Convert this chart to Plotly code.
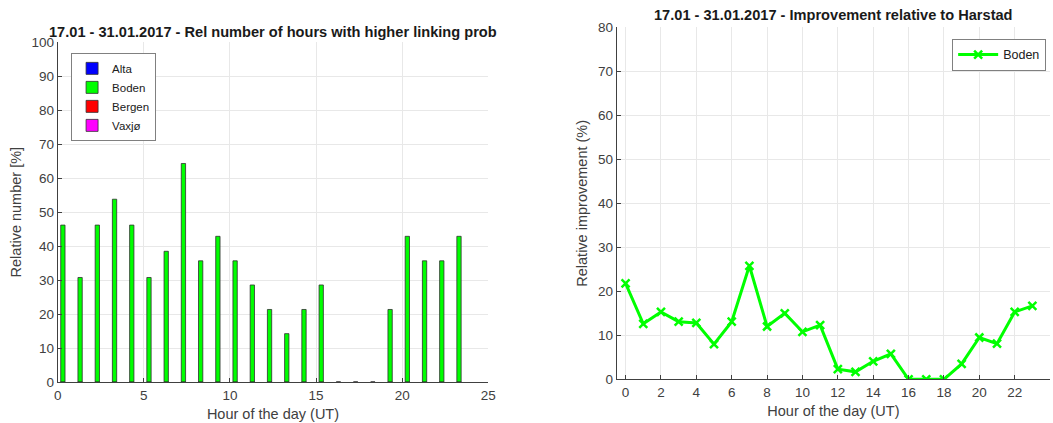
import plotly.graph_objects as go

hours = list(range(24))
stations = ["Alta", "Boden", "Bergen", "Vaxjø"]
bar_colors = ["#0000ff", "#00ff00", "#ff0000", "#ff00ff"]
alta_rel = [0] * 24
boden_rel = [46.2, 30.8, 46.2, 53.8, 46.2, 30.8, 38.5, 64.3, 35.7, 42.9, 35.7, 28.6,
             21.4, 14.3, 21.4, 28.6, 0, 0, 0, 21.4, 42.9, 35.7, 35.7, 42.9]
bergen_rel = [0] * 24
vaxjo_rel = [0] * 24
series_rel = [alta_rel, boden_rel, bergen_rel, vaxjo_rel]

boden_impr = [21.8, 12.6, 15.3, 13.1, 12.8, 8.0, 13.1, 25.8, 12.0, 15.0, 10.8, 12.3,
              2.3, 1.7, 4.1, 5.8, 0, 0, 0, 3.5, 9.5, 8.1, 15.3, 16.7]

left_title = "17.01 - 31.01.2017 - Rel number of hours with higher linking prob"
right_title = "17.01 - 31.01.2017 - Improvement relative to Harstad"

FONT = "Liberation Sans, Arial, Helvetica, sans-serif"
AX = "#404040"
GRID = "#e8e8e8"

fig = go.Figure()
for name, col, vals in zip(stations, bar_colors, series_rel):
    fig.add_trace(go.Bar(
        x=hours, y=vals, name=name, width=0.25, offset=0.175,
        marker=dict(color=col, line=dict(color="#303030", width=0.8)),
        xaxis="x", yaxis="y", legend="legend",
    ))

fig.add_trace(go.Scatter(
    x=hours, y=boden_impr, name="Boden", mode="lines+markers",
    line=dict(color="#00ff00", width=3),
    marker=dict(symbol="x-thin-open", size=8, color="#00ff00",
                line=dict(color="#00ff00", width=2.5)),
    xaxis="x2", yaxis="y2", legend="legend2",
))

common_axis = dict(
    showline=True, linecolor=AX, linewidth=1, ticks="inside", ticklen=4,
    tickcolor=AX, showgrid=True, gridcolor=GRID, zeroline=False, automargin=False,
    tickfont=dict(family=FONT, size=13.5, color=AX), mirror=False,
)
title_font = dict(family=FONT, size=14.5, color=AX)

fig.update_layout(
    width=1053, height=423, margin=dict(l=0, r=0, t=0, b=0, autoexpand=False),
    paper_bgcolor="white", plot_bgcolor="white", barmode="overlay",
    font=dict(family=FONT, color=AX),
    xaxis=dict(domain=[0.0548, 0.4637], range=[0, 25], tickvals=[0, 5, 10, 15, 20, 25],
               title=dict(text="Hour of the day (UT)", font=title_font, standoff=7),
               anchor="y", **common_axis),
    yaxis=dict(domain=[0.0962, 0.9007], range=[0, 100], tickvals=list(range(0, 101, 10)),
               title=dict(text="Relative number [%]", font=title_font, standoff=6),
               anchor="x", **common_axis),
    xaxis2=dict(domain=[0.5857, 0.9972], range=[-0.5, 24], tickvals=list(range(0, 23, 2)),
                title=dict(text="Hour of the day (UT)", font=title_font, standoff=7),
                anchor="y2", **common_axis),
    yaxis2=dict(domain=[0.1033, 0.9355], range=[0, 80], tickvals=list(range(0, 81, 10)),
                title=dict(text="Relative improvement (%)", font=title_font, standoff=6),
                anchor="x2", **common_axis),
    legend=dict(x=0.0675, y=0.875, xanchor="left", yanchor="top",
                bgcolor="white", bordercolor="#808080", borderwidth=1,
                font=dict(family=FONT, size=11.5, color="#202020"),
                tracegroupgap=0, itemwidth=30),
    legend2=dict(x=0.9935, y=0.908, xanchor="right", yanchor="top",
                 bgcolor="white", bordercolor="#808080", borderwidth=1,
                 font=dict(family=FONT, size=12.5, color="#202020"), itemwidth=40),
    annotations=[
        dict(text="<b>" + left_title + "</b>", x=0.259, y=1 - 32 / 423, xref="paper", yref="paper",
             showarrow=False, xanchor="center", yanchor="middle",
             font=dict(family=FONT, size=14.6, color="#1a1a1a")),
        dict(text="<b>" + right_title + "</b>", x=0.7914, y=1 - 15 / 423, xref="paper", yref="paper",
             showarrow=False, xanchor="center", yanchor="middle",
             font=dict(family=FONT, size=14.6, color="#1a1a1a")),
    ],
)

fig.write_html("out.html")
